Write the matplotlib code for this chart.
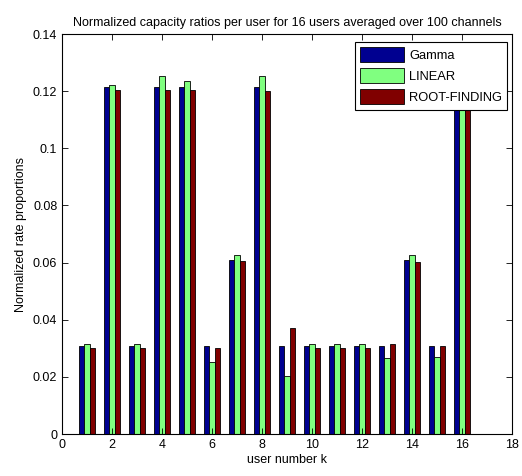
import numpy as np
import matplotlib
matplotlib.use("Agg")
import matplotlib.pyplot as plt

plt.rcParams['font.family'] = ['Liberation Sans', 'DejaVu Sans']

users = np.arange(1, 17)
gamma = [0.0307, 0.1215, 0.0307, 0.1215, 0.1215, 0.0307, 0.0610, 0.1215,
         0.0307, 0.0307, 0.0307, 0.0307, 0.0307, 0.0610, 0.0307, 0.1215]
linear = [0.0315, 0.1222, 0.0315, 0.1254, 0.1236, 0.0254, 0.0627, 0.1253,
          0.0204, 0.0315, 0.0315, 0.0315, 0.0265, 0.0627, 0.0270, 0.1250]
root_finding = [0.0303, 0.1204, 0.0303, 0.1203, 0.1203, 0.0303, 0.0607, 0.1200,
                0.0372, 0.0303, 0.0303, 0.0303, 0.0316, 0.0602, 0.0307, 0.1200]
series_names = ['Gamma', 'LINEAR', 'ROOT-FINDING']
colors = ['#000090', '#80ff80', '#800000']

fig = plt.figure(figsize=(5.22, 4.76), dpi=100)
ax = fig.add_axes([0.119, 0.088, 0.862, 0.8405])

width = 0.22
for i, (vals, name, c) in enumerate(zip([gamma, linear, root_finding], series_names, colors)):
    ax.bar(users + (i - 1) * width, vals, width=width, color=c,
           edgecolor='black', linewidth=0.6, label=name)

ax.set_xlim(0, 18)
ax.set_ylim(0, 0.14)
ax.set_xticks(np.arange(0, 19, 2))
yt = np.arange(0, 0.141, 0.02)
ax.set_yticks(yt)
ax.set_yticklabels(['0', '0.02', '0.04', '0.06', '0.08', '0.1', '0.12', '0.14'])
ax.tick_params(direction='in', top=True, right=True, labelsize=9, length=4, width=0.6)
for s in ax.spines.values():
    s.set_linewidth(0.8)

ax.set_title('Normalized capacity ratios per user for 16 users averaged over 100 channels',
             fontsize=9, pad=6)
ax.set_xlabel('user number k', fontsize=9, labelpad=2)
ax.set_ylabel('Normalized rate proportions', fontsize=9, labelpad=4)

leg = ax.legend(loc='upper right', bbox_to_anchor=(0.989, 0.98), fontsize=9.3,
                handlelength=3.4, handleheight=1.4,
                fancybox=False, framealpha=1, edgecolor='black',
                borderaxespad=0, labelspacing=0.48, handletextpad=0.4,
                borderpad=0.4)
leg.get_frame().set_linewidth(0.8)

fig.savefig('out.png', dpi=100)
